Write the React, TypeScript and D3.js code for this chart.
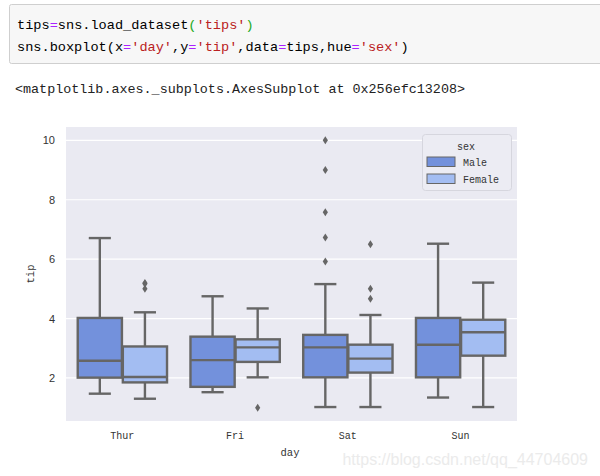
import React from 'react';
import * as d3 from 'd3';

const days = ['Thur', 'Fri', 'Sat', 'Sun'];
const sexes = ['Male', 'Female'];
const colors = ['#7391dc', '#a3bdf2'];

const maleLow = [1.47, 1.52, 1.02, 1.34];
const maleQ1 = [2.01, 1.7, 2.02, 2.02];
const maleMedian = [2.58, 2.6, 3.03, 3.12];
const maleQ3 = [4.02, 3.39, 3.45, 4.02];
const maleHigh = [6.71, 4.75, 5.16, 6.52];
const maleOutliers = [[], [], [10.0, 9.0, 7.58, 6.73, 5.92], []];

const femaleLow = [1.3, 2.02, 1.02, 1.02];
const femaleQ1 = [1.85, 2.54, 2.18, 2.75];
const femaleMedian = [2.03, 3.03, 2.65, 3.54];
const femaleQ3 = [3.06, 3.3, 3.12, 3.96];
const femaleHigh = [4.21, 4.34, 4.12, 5.21];
const femaleOutliers = [[5.0, 5.17, 5.2], [1.0], [6.5, 5.0, 4.67], []];

const yTicks = [2, 4, 6, 8, 10];

const codeLine1 = [
  ['tips', '#000'], ['=', '#aa22ff'], ['sns.load_dataset', '#000'], ['(', '#22aa22'],
  ["'tips'", '#ba2121'], [')', '#22aa22'],
];
const codeLine2 = [
  ['sns.boxplot(x', '#000'], ['=', '#aa22ff'], ["'day'", '#ba2121'], [',y', '#000'],
  ['=', '#aa22ff'], ["'tip'", '#ba2121'], [',data', '#000'], ['=', '#aa22ff'],
  ['tips,hue', '#000'], ['=', '#aa22ff'], ["'sex'", '#ba2121'], [')', '#000'],
];
const outputText = '<matplotlib.axes._subplots.AxesSubplot at 0x256efc13208>';
const watermark = 'https://blog.csdn.net/qq_44704609';

const stats = [
  { low: maleLow, q1: maleQ1, med: maleMedian, q3: maleQ3, high: maleHigh, out: maleOutliers },
  { low: femaleLow, q1: femaleQ1, med: femaleMedian, q3: femaleQ3, high: femaleHigh, out: femaleOutliers },
];

export default function App() {
  const left = 66, right = 517, top = 127, bottom = 421;
  const x = d3.scaleBand().domain(days).range([left, right]).padding(0);
  const y = d3.scaleLinear().domain([0.55, 10.45]).range([bottom, top]);
  const bw = x.bandwidth();
  const hueOff = d3.scaleBand().domain(sexes).range([-0.4 * bw, 0.4 * bw]);
  const boxW = hueOff.bandwidth() * 0.98;
  const gray = '#666666';
  const lw = 2.4;
  const mono = '"Liberation Mono", "DejaVu Sans Mono", monospace';
  const sans = '"Liberation Sans", Arial, sans-serif';

  const diamond = (cx: number, cy: number) => {
    const h = 4, w = 2.6;
    return `M${cx},${cy - h}L${cx + w},${cy}L${cx},${cy + h}L${cx - w},${cy}Z`;
  };

  return (
    <div style={{ position: 'absolute', left: 0, top: 0 }}>
      <svg width={600} height={476} style={{ display: 'block', background: '#fff' }}>
        {/* code cell */}
        <rect x={9.5} y={4.5} width={600} height={59} fill="#f7f7f7" stroke="#cfcfcf" rx={2} />
        <text x={17} y={29} fontFamily={mono} fontSize={13.6} xmlSpace="preserve">
          {codeLine1.map(([t, c], i) => (
            <tspan key={i} fill={c}>{t}</tspan>
          ))}
        </text>
        <text x={17} y={51} fontFamily={mono} fontSize={13.6} xmlSpace="preserve">
          {codeLine2.map(([t, c], i) => (
            <tspan key={i} fill={c}>{t}</tspan>
          ))}
        </text>
        <text x={15} y={93} fontFamily={mono} fontSize={13.4} fill="#222">{outputText}</text>

        {/* plot area */}
        <rect x={left} y={top} width={right - left} height={bottom - top} fill="#eaeaf2" />
        {yTicks.map((t) => (
          <g key={t}>
            <line x1={left} x2={right} y1={y(t)} y2={y(t)} stroke="#fff" strokeWidth={1.2} />
            <text x={55} y={y(t) + 4} textAnchor="end" fontFamily={sans} fontSize={11} fill="#333">{t}</text>
          </g>
        ))}

        {days.map((d, i) => {
          const cx = x(d)! + bw / 2;
          return (
            <g key={d}>
              {stats.map((s, j) => {
                const bx = cx + hueOff(sexes[j])! + hueOff.bandwidth() / 2;
                return (
                  <g key={j}>
                    <line x1={bx} x2={bx} y1={y(s.q3[i])} y2={y(s.high[i])} stroke={gray} strokeWidth={lw} />
                    <line x1={bx} x2={bx} y1={y(s.q1[i])} y2={y(s.low[i])} stroke={gray} strokeWidth={lw} />
                    <line x1={bx - boxW / 4} x2={bx + boxW / 4} y1={y(s.high[i])} y2={y(s.high[i])} stroke={gray} strokeWidth={lw} />
                    <line x1={bx - boxW / 4} x2={bx + boxW / 4} y1={y(s.low[i])} y2={y(s.low[i])} stroke={gray} strokeWidth={lw} />
                    <rect x={bx - boxW / 2} y={y(s.q3[i])} width={boxW} height={y(s.q1[i]) - y(s.q3[i])} fill={colors[j]} stroke={gray} strokeWidth={lw} />
                    <line x1={bx - boxW / 2} x2={bx + boxW / 2} y1={y(s.med[i])} y2={y(s.med[i])} stroke={gray} strokeWidth={lw} />
                    {s.out[i].map((v, k) => (
                      <path key={k} d={diamond(bx, y(v))} fill={gray} />
                    ))}
                  </g>
                );
              })}
              <text x={cx} y={439} textAnchor="middle" fontFamily={mono} fontSize={10} fill="#333">{d}</text>
            </g>
          );
        })}

        {/* axis labels */}
        <text x={290} y={456} textAnchor="middle" fontFamily={mono} fontSize={10.5} fill="#333">day</text>
        <text transform={`translate(34,${(top + bottom) / 2}) rotate(-90)`} textAnchor="middle" fontFamily={mono} fontSize={10.5} fill="#333">tip</text>

        {/* legend */}
        <rect x={422.5} y={134.5} width={89} height={56} rx={3} fill="#ececf3" stroke="#d6d6de" />
        <text x={466} y={150} textAnchor="middle" fontFamily={mono} fontSize={10} fill="#333">sex</text>
        {sexes.map((s, j) => (
          <g key={s}>
            <rect x={427} y={157 + j * 17} width={28} height={9.5} fill={colors[j]} stroke={gray} strokeWidth={1} />
            <text x={463} y={166 + j * 17} fontFamily={mono} fontSize={10} fill="#333">{s}</text>
          </g>
        ))}

        {/* watermark */}
        <text x={588} y={465} textAnchor="end" fontFamily={sans} fontSize={16} fill="#ebebeb">{watermark}</text>
      </svg>
    </div>
  );
}
